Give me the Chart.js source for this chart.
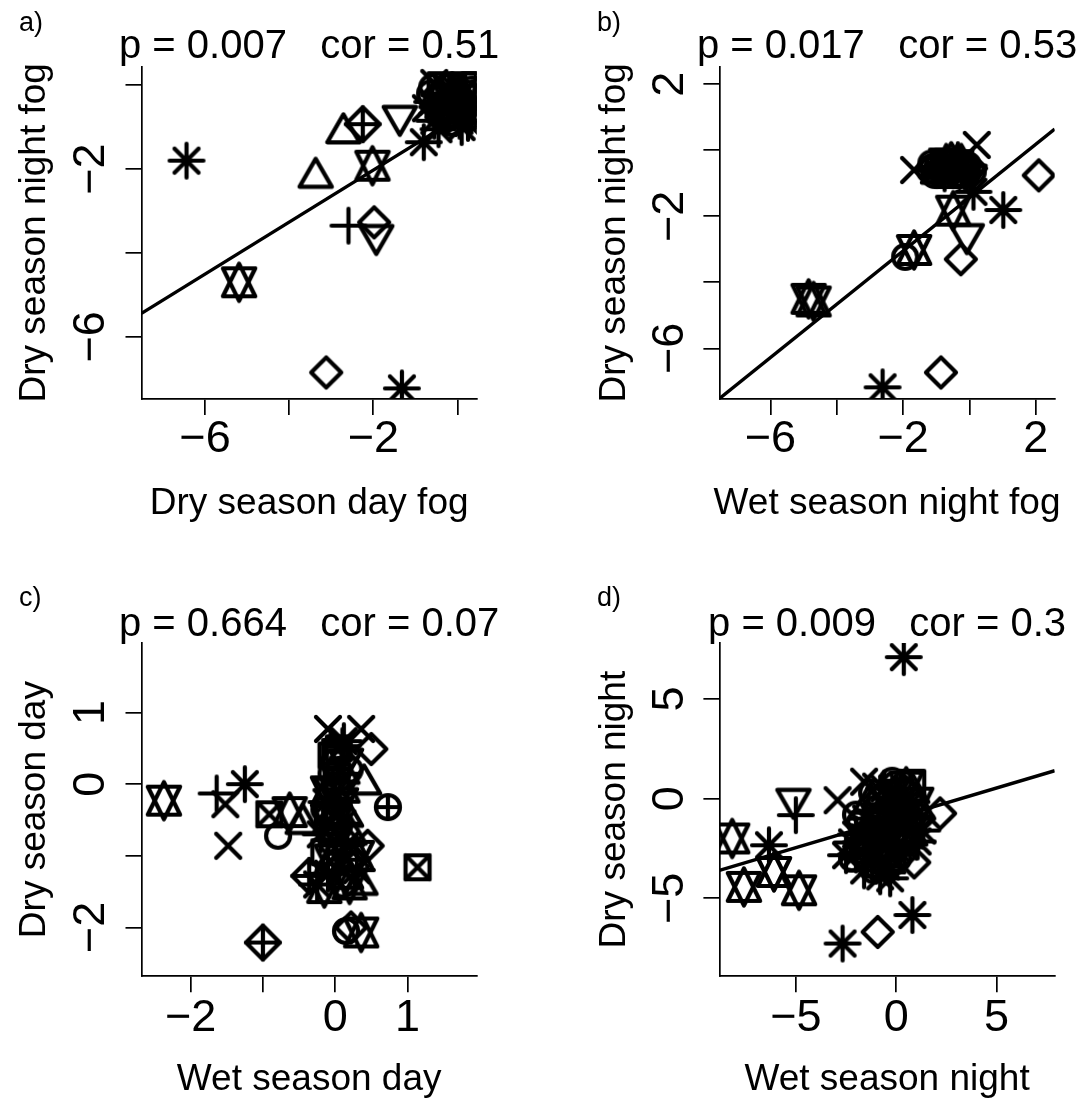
<!DOCTYPE html>
<html>
<head>
<meta charset="utf-8">
<script src="https://cdn.jsdelivr.net/npm/chart.js@4.4.1/dist/chart.umd.min.js"></script>
<style>
  html, body { margin: 0; padding: 0; background: #fff; }
  #wrap { position: relative; width: 1081px; height: 1101px; overflow: hidden; background: #fff; }
  canvas { position: absolute; }
</style>
</head>
<body>
<div id="wrap">
  <canvas id="pa" width="540" height="550" style="left:0px;top:0px"></canvas>
  <canvas id="pb" width="541" height="550" style="left:540px;top:0px"></canvas>
  <canvas id="pc" width="540" height="551" style="left:0px;top:550px"></canvas>
  <canvas id="pd" width="541" height="551" style="left:540px;top:550px"></canvas>
</div>
<script>
// panel a: dry season day fog vs dry season night fog
const aX = [-6.44, -3.37, -2.71, -2.25, -1.37, -2.02, -2.59, -1.98, -1.93, -5.19, -3.12, -1.32,
  -0.55, 0.15, -0.1, -0.35, -0.6, 0.0, 0.2, 0.25, -0.2, -0.45, 0.05, -0.3, -0.75, -0.05, -0.8, -0.15, 0.1,
  0.35, 0.4, -0.4, -0.25, 0.3, -0.55, 0.0, -0.1, 0.35, -0.65, 0.1, -0.45,
  -0.2, 0.2, -0.5, 0.3, -0.35, 0.05, -0.6, 0.4, -0.15, 0.25];
const aY = [-1.8, -2.2, -1.14, -0.93, -0.74, -1.92, -3.35, -3.27, -3.58, -4.7, -6.85, -7.23,
  0.05, 0.0, -0.05, -0.25, -0.4, -0.3, -0.45, -0.2, -0.6, -0.7, -0.85, -0.45, -0.55, -0.5, -1.36, -0.35, -0.65,
  -0.1, -0.5, 0.0, -0.1, -0.75, -0.85, -0.15, -0.75, -0.35, -0.2, -1.0, -1.05,
  -0.2, -0.1, -0.3, -0.6, -0.55, -0.45, -0.05, 0.0, -0.9, -0.9];
const aShape = ['star', 'tri', 'tri', 'dplus', 'tridown', 'hex', 'plus', 'diamond', 'tridown', 'hex', 'diamond', 'star',
  'x', 'square', 'sqx', 'circle', 'star', 'tri', 'diamond', 'circle', 'star', 'cplus', 'star', 'tridown', 'x', 'square', 'star', 'hex', 'circle',
  'circle', 'star', 'square', 'x', 'diamond', 'star', 'circle', 'tri', 'hex', 'circle', 'star', 'star',
  'star', 'x', 'tri', 'circle', 'diamond', 'star', 'circle', 'square', 'circle', 'star'];
const aLineX = [-7.51, 0.46];
const aLineY = [-5.44, -0.5];
const aXTicks = [-6, -4, -2, 0];
const aXTickLabels = ['\u22126', '', '\u22122', ''];
const aYTicks = [-6, -4, -2, 0];
const aYTickLabels = ['\u22126', '', '\u22122', ''];

// panel b: wet season night fog vs dry season night fog
const bX = [-2.62, -0.86, -4.85, -4.7, -1.67, -1.94, -0.49, -0.08, -0.26, 1.02, 0.12, 2.09, -1.67, 0.22,
  -1.2, -0.95, -0.65, -0.35, 0.05, -0.4, -0.75, -0.55, -0.15, -0.2, -1.05, -0.7, 0.0, -0.3,
  -0.85, -0.45, -0.1, -1.1, -0.6, -0.25,
  -1.0, -0.8, -0.5, -0.3, -0.05, -0.65, -0.95, -0.15, -1.15, -0.4, 0.1, -0.75];
const bY = [-7.18, -6.73, -4.5, -4.58, -3.02, -3.23, -1.83, -2.55, -3.3, -1.81, -1.26, -0.76, -0.6, 0.16,
  -0.6, -0.45, -0.55, -0.3, -0.55, -0.75, -0.7, -0.35, -0.45, -0.7, -0.75, -0.4, -0.75, -0.55,
  -0.55, -0.5, -0.6, -0.5, -0.75, -0.4,
  -0.6, -0.45, -0.6, -0.7, -0.45, -0.35, -0.7, -0.65, -0.4, -0.45, -0.65, -0.55];
const bShape = ['star', 'diamond', 'hex', 'hex', 'hex', 'circle', 'hex', 'tridown', 'diamond', 'star', 'star', 'diamond', 'x', 'x',
  'circle', 'circle', 'square', 'plus', 'diamond', 'circle', 'star', 'tri', 'cplus', 'square', 'circle', 'hex', 'tridown', 'sqx',
  'circle', 'diamond', 'circle', 'cplus', 'square', 'tri',
  'star', 'circle', 'circle', 'diamond', 'circle', 'square', 'tri', 'star', 'circle', 'hex', 'circle', 'cplus'];
const bLineX = [-7.54, 2.57];
const bLineY = [-7.52, 0.64];
const bXTicks = [-6, -4, -2, 0, 2];
const bXTickLabels = ['\u22126', '', '\u22122', '', '2'];
const bYTicks = [-6, -4, -2, 0, 2];
const bYTickLabels = ['\u22126', '', '\u22122', '', '2'];

// panel c: wet season day vs dry season day
const cX = [-2.37, -1.64, -1.25, -1.52, -1.48, -0.91, -0.79, -0.63, -0.45, -1.0, -0.36, -0.1, 0.36, 0.1, 0.5, 0.73, 1.14, 0.45, 0.36, 0.15, 0.22, 0.4,
  -0.05, -0.02, 0.05, 0.12, 0.15, -0.05, 0.02, -0.12, -0.08, -0.15, 0.08, 0.0, 0.15, -0.2, 0.1, 0.3, 0.22, 0.3, 0.2, 0.35, 0.0, -0.25, -0.15, 0.05, 0.0,
  0.05, -0.1, 0.1, -0.05, 0.2, -0.15, 0.15, 0.05, 0.1,
  -0.05, 0.0, -0.1, 0.05, -0.05, 0.15, 0.25, 0.1, -0.1, 0.0, 0.1, 0.2];
const cY = [-0.23, -0.13, 0.0, -0.28, -0.86, -0.42, -0.72, -0.39, -0.55, -2.21, -1.28, 0.77, 0.77, 0.53, 0.49, -0.32, -1.16, -0.86, -2.07, -2.05, -2.0, 0.0,
  0.4, 0.3, 0.2, 0.6, 0.35, -0.05, 0.05, -0.25, -0.5, -0.35, -0.2, -0.65, -0.45, -0.7, -0.9, -1.0, -1.05, -1.2, -1.4, -1.4, -1.1, -1.4, -1.45, -0.95, -0.4,
  -0.3, -0.1, -0.55, -0.8, -0.7, -0.95, -1.25, 0.5, 0.15,
  0.15, -0.2, -0.45, -0.6, -1.05, -0.85, -1.15, -1.4, -1.25, 0.45, -0.05, 0.2];
const cShape = ['hex', 'plus', 'star', 'x', 'x', 'sqx', 'circle', 'hex', 'tri', 'dplus', 'dplus', 'x', 'x', 'star', 'diamond', 'cplus', 'sqx', 'diamond', 'hex', 'circle', 'diamond', 'tri',
  'square', 'circle', 'cplus', 'star', 'tridown', 'tridown', 'square', 'star', 'hex', 'circle', 'tridown', 'square', 'tri', 'star', 'diamond', 'hex', 'circle', 'star', 'hex', 'tri', 'diamond', 'star', 'hex', 'x', 'sqx',
  'circle', 'hex', 'star', 'circle', 'tri', 'square', 'hex', 'square', 'tri',
  'circle', 'star', 'square', 'circle', 'hex', 'star', 'diamond', 'circle', 'star', 'square', 'hex', 'circle'];
const cXTicks = [-2, -1, 0, 1];
const cXTickLabels = ['\u22122', '', '0', '1'];
const cYTicks = [-2, -1, 0, 1];
const cYTickLabels = ['\u22122', '', '0', '1'];

// panel d: wet season night vs dry season night
const dX = [-8.17, -5.12, -5.0, -2.92, -6.34, -6.09, -7.59, -4.84, -2.5, -2.67, -0.92, 0.81, 2.19, 0.38, 1.07, -1.6,
  -1.5, -2.0, -1.0, 0.5, 0.0, -0.5, -1.0, -0.3, -2.0, -1.2, -0.8, -0.2, 0.3, -0.5, 0.4, 0.8, 1.3, -0.3, 0.2, -1.6, 0.6, -1.2, -2.2, -0.9, 0.0, -0.2, -0.6, -1.3, 0.1, 0.5,
  -1.0, -0.5, 0.0, 0.5, -1.5, -1.0, -0.5, 0.3, 0.8, -0.2, -1.4, 0.6, -0.7, 0.2, 1.0, -2.0, -0.3, 0.9,
  -1.2, -0.6, -0.4, 0.1, -1.8, -0.9, -0.1, 0.7, -1.4, -0.7, 0.4, -1.1, -0.4, 0.6, -0.8, 0.2, 1.1, -2.2, -0.2, 0.8];
const dY = [-2.0, -0.03, -0.83, -0.08, -2.34, -3.68, -4.43, -4.6, -2.84, -7.27, -6.69, -5.84, -0.74, 7.1, -2.15, 0.85,
  -1.0, -0.8, 0.6, 0.3, 0.2, -0.5, -1.5, -1.0, -2.8, -3.2, -3.9, -3.3, -1.8, -2.3, -0.3, 0.3, -1.6, 0.0, -0.8, -3.6, -1.2, -2.0, -3.0, -1.0, -2.5, 0.5, -1.6, -0.2, -3.0, 0.6,
  -0.5, -1.5, -1.0, -0.5, -2.0, -2.8, -3.4, -2.8, -1.0, -1.8, -1.4, -2.2, -0.2, 0.6, -0.2, -1.8, -4.0, -3.2,
  0.3, 0.5, -1.2, -1.4, -1.2, -1.9, -2.2, -1.6, -2.5, -2.6, -2.4, -3.6, -3.0, -0.8, 0.0, -0.4, -0.9, -2.2, 0.9, 0.8];
const dShape = ['hex', 'tridown', 'plus', 'x', 'star', 'hex', 'hex', 'hex', 'star', 'star', 'diamond', 'star', 'diamond', 'star', 'star', 'x',
  'star', 'circle', 'x', 'diamond', 'hex', 'star', 'circle', 'square', 'star', 'star', 'star', 'diamond', 'circle', 'hex', 'star', 'tri', 'star', 'cplus', 'tridown', 'star', 'square', 'diamond', 'circle', 'hex', 'star', 'x', 'sqx', 'tri', 'circle', 'hex',
  'circle', 'star', 'hex', 'circle', 'star', 'circle', 'star', 'diamond', 'star', 'square', 'hex', 'circle', 'x', 'diamond', 'hex', 'star', 'star', 'diamond',
  'circle', 'star', 'circle', 'star', 'circle', 'star', 'circle', 'hex', 'star', 'circle', 'star', 'circle', 'hex', 'star', 'circle', 'square', 'diamond', 'star', 'circle', 'square'];
const dLineX = [-8.81, 7.9];
const dLineY = [-3.6, 1.4];
const dXTicks = [-5, 0, 5];
const dXTickLabels = ['\u22125', '0', '5'];
const dYTicks = [-5, 0, 5];
const dYTickLabels = ['\u22125', '0', '5'];

const FONT = '"Liberation Sans", Arial, Helvetica, sans-serif';
const RR = 12;      // base symbol radius (px)
const LW = 4.2;     // symbol line width

// R-like plotting symbols drawn once into small canvases
function makeSymbol(kind) {
  const c = document.createElement('canvas');
  c.width = 50; c.height = 50;
  const g = c.getContext('2d');
  g.translate(25, 25);
  g.strokeStyle = '#000';
  g.lineWidth = LW;
  g.lineCap = 'round';
  g.lineJoin = 'round';
  const line = (x1, y1, x2, y2) => { g.beginPath(); g.moveTo(x1, y1); g.lineTo(x2, y2); g.stroke(); };
  const poly = (pts) => {
    g.beginPath();
    pts.forEach((p, i) => (i ? g.lineTo(p[0], p[1]) : g.moveTo(p[0], p[1])));
    g.closePath();
    g.stroke();
  };
  const TRC0 = 1.55512030155621, TRC1 = TRC0 * Math.sqrt(3) / 2, TRC2 = TRC0 / 2;
  const r = RR;
  if (kind === 'tri' || kind === 'tridown') {
    const s = kind === 'tri' ? 1 : -1;
    poly([[0, -s * TRC0 * r], [TRC1 * r, s * TRC2 * r], [-TRC1 * r, s * TRC2 * r]]);
  } else if (kind === 'hex') {
    const h = TRC0 * r, yc = 0.5 * (TRC2 * r + h), xc = TRC1 * r;
    poly([[0, h], [xc, -yc], [-xc, -yc]]);
    poly([[0, -h], [xc, yc], [-xc, yc]]);
  } else if (kind === 'plus') {
    const q = Math.SQRT2 * r;
    line(-q, 0, q, 0); line(0, -q, 0, q);
  } else if (kind === 'x') {
    line(-r, -r, r, r); line(-r, r, r, -r);
  } else if (kind === 'star') {
    line(-r, -r, r, r); line(-r, r, r, -r);
    const q = Math.SQRT2 * r;
    line(-q, 0, q, 0); line(0, -q, 0, q);
  } else if (kind === 'diamond') {
    const q = 1.25331413731550 * r;
    poly([[0, -q], [q, 0], [0, q], [-q, 0]]);
  } else if (kind === 'dplus') {
    const q = Math.SQRT2 * r;
    poly([[0, -q], [q, 0], [0, q], [-q, 0]]);
    line(-q, 0, q, 0); line(0, -q, 0, q);
  } else if (kind === 'circle') {
    g.beginPath(); g.arc(0, 0, r, 0, Math.PI * 2); g.stroke();
  } else if (kind === 'cplus') {
    g.beginPath(); g.arc(0, 0, r, 0, Math.PI * 2); g.stroke();
    line(-r, 0, r, 0); line(0, -r, 0, r);
  } else if (kind === 'square') {
    g.strokeRect(-r, -r, 2 * r, 2 * r);
  } else if (kind === 'sqx') {
    g.strokeRect(-r, -r, 2 * r, 2 * r);
    line(-r, -r, r, r); line(-r, r, r, -r);
  }
  return c;
}

const symbols = {};
['tri', 'tridown', 'hex', 'plus', 'x', 'star', 'diamond', 'dplus', 'circle', 'cplus', 'square', 'sqx']
  .forEach((k) => { symbols[k] = makeSymbol(k); });

function axis(min, max, ticks, horizontal) {
  return {
    type: 'linear',
    min: min,
    max: max,
    afterBuildTicks: (s) => { s.ticks = ticks.map((v) => ({ value: v })); },
    afterFit: (s) => { if (horizontal) s.height = 0; else s.width = 0; },
    ticks: { display: false },
    title: { display: false },
    grid: { display: true, drawOnChartArea: false, drawTicks: true, tickLength: 16, tickWidth: 1.7, color: '#000', lineWidth: 1.7 },
    border: { display: true, color: '#000', width: 1.7 },
  };
}

function textPlugin(p) {
  return {
    id: 'rText' + p.id,
    afterDraw(chart) {
      const g = chart.ctx;
      const area = chart.chartArea;
      const xs = chart.scales.x, ys = chart.scales.y;
      const cx = (area.left + area.right) / 2, cy = (area.top + area.bottom) / 2;
      g.save();
      g.fillStyle = '#000';
      g.textBaseline = 'alphabetic';

      g.font = `27px ${FONT}`;
      g.textAlign = 'left';
      g.fillText(p.letter, p.letterX, p.letterY);

      g.textAlign = 'center';
      g.font = `40px ${FONT}`;
      g.fillText(p.title, cx, p.titleY);

      g.font = `45px ${FONT}`;
      p.xTicks.forEach((v, i) => {
        if (p.xLabels[i]) g.fillText(p.xLabels[i], xs.getPixelForValue(v), p.xTickY);
      });
      p.yTicks.forEach((v, i) => {
        if (!p.yLabels[i]) return;
        g.save();
        g.translate(p.yTickX, ys.getPixelForValue(v));
        g.rotate(-Math.PI / 2);
        g.fillText(p.yLabels[i], 0, 0);
        g.restore();
      });

      g.font = `37px ${FONT}`;
      g.fillText(p.xTitle, cx, p.xTitleY);
      g.save();
      g.translate(p.yTitleX, cy);
      g.rotate(-Math.PI / 2);
      g.fillText(p.yTitle, 0, 0);
      g.restore();
      g.restore();
    },
  };
}

function drawPanel(p) {
  const datasets = [];
  if (p.lineX) {
    datasets.push({
      type: 'line',
      data: p.lineX.map((x, i) => ({ x: x, y: p.lineY[i] })),
      borderColor: '#000',
      borderWidth: 3.4,
      pointRadius: 0,
      fill: false,
      clip: 0,
    });
  }
  datasets.push({
    type: 'scatter',
    data: p.xs.map((x, i) => ({ x: x, y: p.ys[i] })),
    pointStyle: p.shapes.map((s) => symbols[s]),
    pointRadius: 12,
    pointHoverRadius: 12,
    pointBorderWidth: 0,
    clip: 0,
  });
  return new Chart(document.getElementById(p.id), {
    type: 'scatter',
    data: { datasets: datasets },
    options: {
      responsive: false,
      animation: false,
      events: [],
      devicePixelRatio: 1,
      layout: { padding: p.pad },
      plugins: { legend: { display: false }, tooltip: { enabled: false } },
      scales: {
        x: axis(p.xMin, p.xMax, p.xTicks, true),
        y: axis(p.yMin, p.yMax, p.yTicks, false),
      },
    },
    plugins: [textPlugin(p)],
  });
}

drawPanel({
  id: 'pa', letter: 'a)', title: 'p = 0.007   cor = 0.51',
  xTitle: 'Dry season day fog', yTitle: 'Dry season night fog',
  xs: aX, ys: aY, shapes: aShape, lineX: aLineX, lineY: aLineY,
  xMin: -7.51, xMax: 0.46, yMin: -7.48, yMax: 0.44,
  xTicks: aXTicks, xLabels: aXTickLabels, yTicks: aYTicks, yLabels: aYTickLabels,
  pad: { left: 141.5, top: 66.7, right: 63.2, bottom: 151.1 },
  letterX: 19, letterY: 31, titleY: 58, xTickY: 452, yTickX: 103.5, xTitleY: 514, yTitleX: 45,
});

drawPanel({
  id: 'pb', letter: 'b)', title: 'p = 0.017   cor = 0.53',
  xTitle: 'Wet season night fog', yTitle: 'Dry season night fog',
  xs: bX, ys: bY, shapes: bShape, lineX: bLineX, lineY: bLineY,
  xMin: -7.54, xMax: 2.57, yMin: -7.53, yMax: 2.53,
  xTicks: bXTicks, xLabels: bXTickLabels, yTicks: bYTicks, yLabels: bYTickLabels,
  pad: { left: 179.4, top: 66.7, right: 26.3, bottom: 151.1 },
  letterX: 57, letterY: 31, titleY: 58, xTickY: 452, yTickX: 143.2, xTitleY: 514, yTitleX: 84.5,
});

drawPanel({
  id: 'pc', letter: 'c)', title: 'p = 0.664   cor = 0.07',
  xTitle: 'Wet season day', yTitle: 'Dry season day',
  xs: cX, ys: cY, shapes: cShape, lineX: null, lineY: null,
  xMin: -2.68, xMax: 1.96, yMin: -2.68, yMax: 1.97,
  xTicks: cXTicks, xLabels: cXTickLabels, yTicks: cYTicks, yLabels: cYTickLabels,
  pad: { left: 141.5, top: 93, right: 63.2, bottom: 124.8 },
  letterX: 19, letterY: 56, titleY: 86, xTickY: 481, yTickX: 103.5, xTitleY: 540, yTitleX: 45,
});

drawPanel({
  id: 'pd', letter: 'd)', title: 'p = 0.009   cor = 0.3',
  xTitle: 'Wet season night', yTitle: 'Dry season night',
  xs: dX, ys: dY, shapes: dShape, lineX: dLineX, lineY: dLineY,
  xMin: -8.81, xMax: 7.9, yMin: -8.91, yMax: 7.81,
  xTicks: dXTicks, xLabels: dXTickLabels, yTicks: dYTicks, yLabels: dYTickLabels,
  pad: { left: 179.4, top: 93, right: 26.3, bottom: 124.8 },
  letterX: 57, letterY: 56, titleY: 86, xTickY: 481, yTickX: 143.2, xTitleY: 540, yTitleX: 84.5,
});
</script>
</body>
</html>
